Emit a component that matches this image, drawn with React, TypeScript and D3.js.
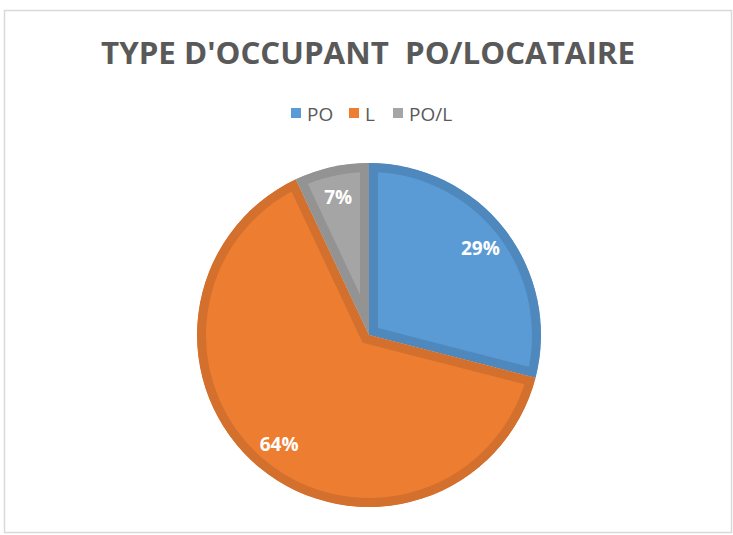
import React from "react";
import * as d3 from "d3";

const categories = ["PO", "L", "PO/L"];
const values = [29, 64, 7];
const fills = ["#5B9BD5", "#ED7D31", "#A5A5A5"];
const borders = ["#4E88BC", "#D3702D", "#939393"];
const title = "TYPE D'OCCUPANT  PO/LOCATAIRE";

const W = 733;
const H = 535;
const cx = 369;
const cy = 335;
const R = 172;
const BORDER = 9;

export default function App() {
  const pie = d3.pie<number>().sort(null).value((d) => d)(values);
  const arc = d3.arc<d3.PieArcDatum<number>>().innerRadius(0).outerRadius(R);
  const labelArc = d3
    .arc<d3.PieArcDatum<number>>()
    .innerRadius(R * 0.82)
    .outerRadius(R * 0.82);
  const total = d3.sum(values);

  const legendX = [291, 349, 393];

  return (
    <svg
      width={W}
      height={H}
      style={{ position: "absolute", left: 0, top: 0, background: "#fff" }}
    >
      <rect x={0} y={0} width={W} height={H} fill="#fff" />
      <rect
        x={4.5}
        y={10.5}
        width={727}
        height={522}
        fill="#fff"
        stroke="#d9d9d9"
        strokeWidth={1.5}
      />
      <text
        x={368}
        y={64}
        textAnchor="middle"
        fontFamily="'Open Sans', sans-serif"
        fontWeight={700}
        fontSize={31}
        fill="#595959"
        textLength={534}
        lengthAdjust="spacingAndGlyphs"
        style={{ whiteSpace: "pre" }}
      >
        {title}
      </text>
      <g>
        {categories.map((c, i) => (
          <g key={c}>
            <rect x={legendX[i]} y={108} width={10} height={10} fill={fills[i]} />
            <text
              x={legendX[i] + 16}
              y={121}
              fontFamily="'Open Sans', sans-serif"
              fontSize={19}
              fill="#595959"
            >
              {c}
            </text>
          </g>
        ))}
      </g>
      <defs>
        {pie.map((p, i) => (
          <clipPath id={`clip-${i}`} key={i}>
            <path d={arc(p) || ""} />
          </clipPath>
        ))}
      </defs>
      <g transform={`translate(${cx},${cy})`}>
        {pie.map((p, i) => (
          <path
            key={i}
            d={arc(p) || ""}
            fill={fills[i]}
            stroke={borders[i]}
            strokeWidth={BORDER * 2}
            clipPath={`url(#clip-${i})`}
          />
        ))}
        {pie.map((p, i) => {
          const [lx, ly] = labelArc.centroid(p);
          return (
            <text
              key={`l-${i}`}
              x={lx}
              y={ly}
              dy="0.36em"
              textAnchor="middle"
              fontFamily="'Open Sans', sans-serif"
              fontWeight={700}
              fontSize={19}
              fill="#ffffff"
            >
              {`${Math.round((values[i] / total) * 100)}%`}
            </text>
          );
        })}
      </g>
    </svg>
  );
}
